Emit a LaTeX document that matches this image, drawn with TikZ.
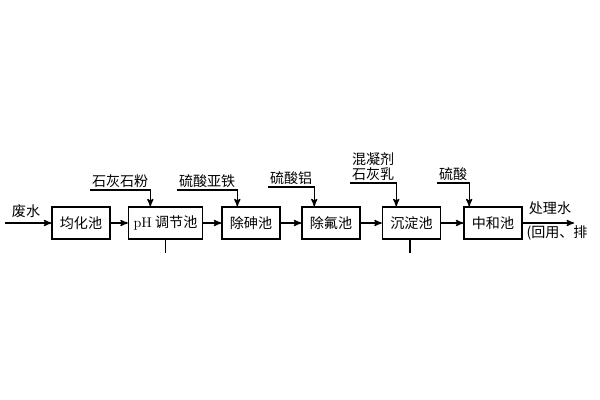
\documentclass[tikz,border=0pt]{standalone}
\usepackage{fontspec}
\newfontfamily\cjk{Noto Sans CJK SC}
\usetikzlibrary{arrows, positioning}
\tikzset{pool/.style={draw, line width=1pt, minimum width=1.45cm, minimum height=0.8cm, inner sep=1pt}}
\tikzset{agent/.style={inner sep=1pt, anchor=south west, align=center}}

\begin{document}
\begin{tikzpicture}[x=0.025cm, y=-0.025cm, >=stealth', line width=0.9pt, every node/.style={font=\cjk\fontsize{10}{11}\selectfont}]
\useasboundingbox (0,0) rectangle (600,400);
\node[pool] (p1) at (81,223) {均化池};
\node[pool, minimum width=1.85cm] (p2) at (165.5,223) {{\normalfont pH}\ 调节池};
\node[pool] (p3) at (251,223) {除砷池};
\node[pool] (p4) at (331,223) {除氟池};
\node[pool] (p5) at (411.5,223) {沉淀池};
\node[pool] (p6) at (493,223) {中和池};
\node[agent] (r1) at (90,190) {石灰石粉};
\node[agent] (r2) at (177,190) {硫酸亚铁};
\node[agent] (r3) at (268,187) {硫酸铝};
\node[agent] (r4) at (350,183) {混凝剂\\石灰乳};
\node[agent] (r5) at (437,183) {硫酸};
\coordinate (w0) at (5,223);
\coordinate (w1) at (574,223);
\node (w2) at (26,211) {废水};
\node (w3) at (550,208) {处理水};
\node (w4) at (557,233) {(回用、排};
\draw [->] (w0) -- (p1);
\draw [->] (p1) -- (p2);
\draw [->] (p2) -- (p3);
\draw [->] (p3) -- (p4);
\draw [->] (p4) -- (p5);
\draw [->] (p5) -- (p6);
\draw [->] (p6) -- (w1);
\draw [->] (r1.south west) -- (r1.south east) -- (r1.south east |- p2.north);
\draw [->] (r2.south west) -- (r2.south east) -- (r2.south east |- p3.north);
\draw [->] (r3.south west) -- (r3.south east) -- (r3.south east |- p4.north);
\draw [->] (r4.south west) -- (r4.south east) -- (r4.south east |- p5.north);
\draw [->] (r5.south west) -- (r5.south east) -- (r5.south east |- p6.north);
\draw (p2.south) -- ++(0,13);
\draw (p5.south) ++(-1.5,0) -- ++(0,13);
\end{tikzpicture}
\end{document}
